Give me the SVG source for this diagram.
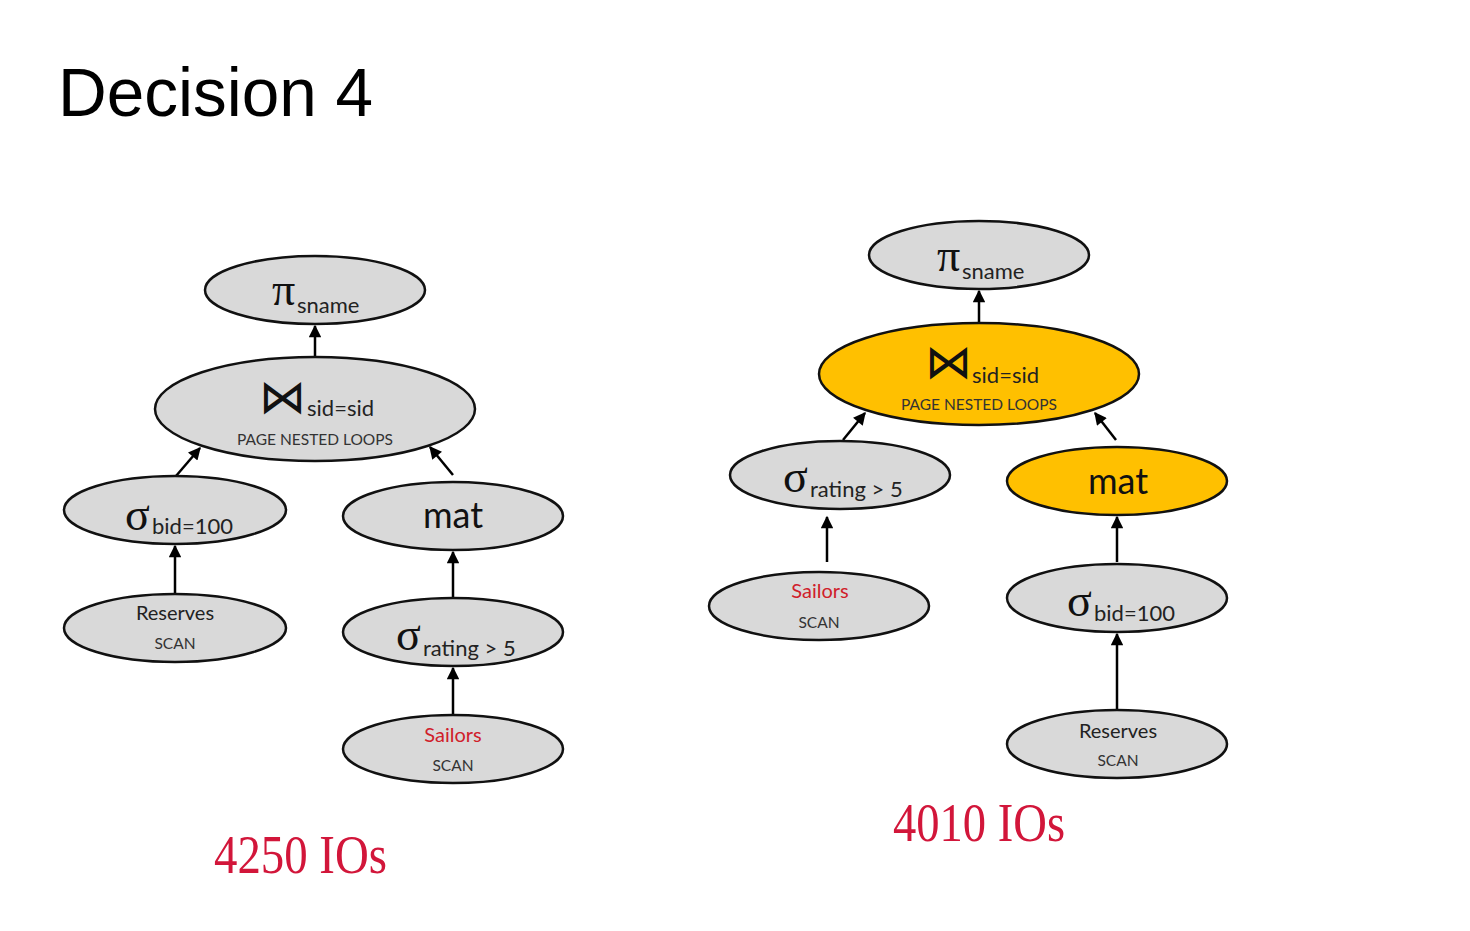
<svg xmlns="http://www.w3.org/2000/svg" width="1470" height="931" viewBox="0 0 1470 931">
<defs>
<marker id="ah" viewBox="0 0 10 10" refX="9" refY="5" markerWidth="5.5" markerHeight="5" orient="auto" markerUnits="strokeWidth">
<path d="M0,0 L10,5 L0,10 z" fill="#000"/>
</marker>
<style>
.n{fill:#d9d9d9;stroke:#111;stroke-width:2.5}
.g{fill:#ffc000;stroke:#111;stroke-width:2.5}
.sym{font-family:"Liberation Serif","DejaVu Serif",serif;font-size:46px;fill:#111}
.bow{font-family:"DejaVu Sans",sans-serif;font-size:47px;fill:#111}
.sub{font-family:Lato,"Open Sans",sans-serif;font-size:22px;fill:#222}
.big{font-family:Lato,"Open Sans",sans-serif;font-size:36px;fill:#111;text-anchor:middle}
.lab{font-family:Lato,"Open Sans",sans-serif;font-size:20px;fill:#222;text-anchor:middle}
.red{fill:#d0202a}
.sm{font-family:Lato,"Open Sans",sans-serif;font-size:15.5px;fill:#333;text-anchor:middle}
.io{font-family:"Liberation Serif",serif;font-size:54px;fill:#d2163a}
.c{fill:none;stroke:#000;stroke-width:2.5;marker-end:url(#ah)}
</style>
</defs>
<rect width="1470" height="931" fill="#fff"/>
<text x="58" y="116" font-family="Liberation Sans,Arial,sans-serif" font-size="68" fill="#000" textLength="315" lengthAdjust="spacingAndGlyphs">Decision 4</text>

<g id="connectors">
<line class="c" x1="315" y1="357" x2="315" y2="326"/>
<line class="c" x1="176" y1="476" x2="200" y2="448"/>
<line class="c" x1="453" y1="475" x2="430" y2="447"/>
<line class="c" x1="175" y1="594" x2="175" y2="546"/>
<line class="c" x1="453" y1="598" x2="453" y2="552"/>
<line class="c" x1="453" y1="715" x2="453" y2="668"/>
<line class="c" x1="979" y1="323" x2="979" y2="291"/>
<line class="c" x1="843" y1="440" x2="865" y2="413"/>
<line class="c" x1="1116" y1="440" x2="1095" y2="413"/>
<line class="c" x1="827" y1="562" x2="827" y2="517"/>
<line class="c" x1="1117" y1="562" x2="1117" y2="517"/>
<line class="c" x1="1117" y1="710" x2="1117" y2="634"/>
</g>

<g id="L-proj">
<ellipse class="n" cx="315" cy="290" rx="110" ry="34"/>
<text class="sym" x="272" y="305">π</text><text class="sub" x="297" y="313">sname</text>
</g>
<g id="L-join">
<ellipse class="n" cx="315" cy="409" rx="160" ry="52"/>
<text class="bow" x="259" y="413">⋈</text><text class="sub" x="307" y="416">sid=sid</text>
<text class="sm" x="315" y="445">PAGE NESTED LOOPS</text>
</g>
<g id="L-selbid">
<ellipse class="n" cx="175" cy="510" rx="111" ry="34"/>
<text class="sym" x="125" y="530">σ</text><text class="sub" x="152" y="534">bid=100</text>
</g>
<g id="L-mat">
<ellipse class="n" cx="453" cy="516" rx="110" ry="34"/>
<text class="big" x="453" y="528">mat</text>
</g>
<g id="L-reserves">
<ellipse class="n" cx="175" cy="628" rx="111" ry="34"/>
<text class="lab" x="175" y="620">Reserves</text>
<text class="sm" x="175" y="649">SCAN</text>
</g>
<g id="L-selrating">
<ellipse class="n" cx="453" cy="632" rx="110" ry="34"/>
<text class="sym" x="396" y="650">σ</text><text class="sub" x="423" y="656">rating &gt; 5</text>
</g>
<g id="L-sailors">
<ellipse class="n" cx="453" cy="749" rx="110" ry="34"/>
<text class="lab red" x="453" y="742">Sailors</text>
<text class="sm" x="453" y="771">SCAN</text>
</g>

<g id="R-proj">
<ellipse class="n" cx="979" cy="255" rx="110" ry="34"/>
<text class="sym" x="937" y="271">π</text><text class="sub" x="962" y="279">sname</text>
</g>
<g id="R-join">
<ellipse class="g" cx="979" cy="374" rx="160" ry="51"/>
<text class="bow" x="925" y="378">⋈</text><text class="sub" x="972" y="383">sid=sid</text>
<text class="sm" x="979" y="410">PAGE NESTED LOOPS</text>
</g>
<g id="R-selrating">
<ellipse class="n" cx="840" cy="475" rx="110" ry="34"/>
<text class="sym" x="783" y="492">σ</text><text class="sub" x="810" y="497">rating &gt; 5</text>
</g>
<g id="R-mat">
<ellipse class="g" cx="1117" cy="481" rx="110" ry="34"/>
<text class="big" x="1118" y="494">mat</text>
</g>
<g id="R-sailors">
<ellipse class="n" cx="819" cy="606" rx="110" ry="34"/>
<text class="lab red" x="820" y="598">Sailors</text>
<text class="sm" x="819" y="628">SCAN</text>
</g>
<g id="R-selbid">
<ellipse class="n" cx="1117" cy="598" rx="110" ry="34"/>
<text class="sym" x="1067" y="616">σ</text><text class="sub" x="1094" y="621">bid=100</text>
</g>
<g id="R-reserves">
<ellipse class="n" cx="1117" cy="744" rx="110" ry="34"/>
<text class="lab" x="1118" y="738">Reserves</text>
<text class="sm" x="1118" y="766">SCAN</text>
</g>

<text class="io" x="214" y="873" textLength="173" lengthAdjust="spacingAndGlyphs">4250 IOs</text>
<text class="io" x="893" y="841" textLength="172" lengthAdjust="spacingAndGlyphs">4010 IOs</text>
</svg>
